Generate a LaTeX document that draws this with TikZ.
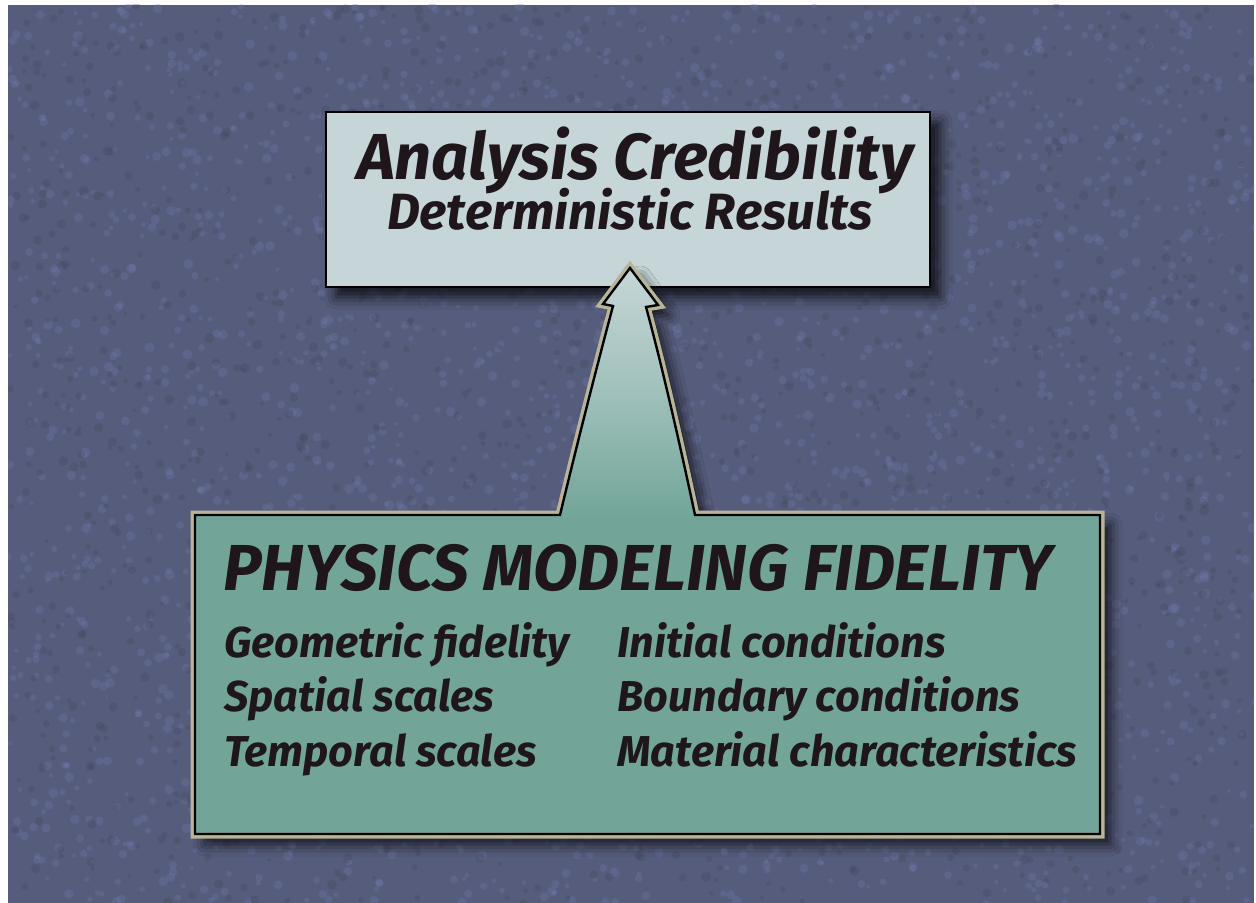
\documentclass[tikz,border=0pt]{standalone}
\usepackage{fontspec}
\setmainfont{Fira Sans}
\usetikzlibrary{shadows.blur}
\definecolor{bgc}{RGB}{86,92,124}
\definecolor{bglight}{RGB}{114,122,172}
\definecolor{bgdark}{RGB}{68,72,94}
\definecolor{topc}{RGB}{198,214,216}
\definecolor{tealc}{RGB}{114,165,152}
\definecolor{rimc}{RGB}{184,180,150}
\definecolor{inkc}{RGB}{30,22,26}
\tikzset{
  boxtext/.style={font=\bfseries\itshape, text=inkc, inner sep=0pt},
  bigtitle/.style={boxtext, font=\fontsize{32.5}{38}\selectfont\bfseries\itshape},
  subtitle/.style={boxtext, font=\fontsize{25.5}{30}\selectfont\bfseries\itshape},
  itemtext/.style={boxtext, font=\fontsize{21.6}{25}\selectfont\bfseries\itshape, anchor=base west},
  softshadow/.style={blur shadow={shadow xshift=5pt, shadow yshift=-5pt, shadow blur radius=6pt, shadow opacity=80}}
}
\begin{document}
\begin{tikzpicture}[x=0.5pt,y=-0.5pt]
\useasboundingbox (0,0) rectangle (1256,903);
\fill[white] (0,0) rectangle (1256,903);
\fill[bgc] (8,5) rectangle (1254,903);
\begin{scope}
\clip (8,5) rectangle (1254,903);
\pgfmathsetseed{7}
\foreach \i in {1,...,2600}{
  \fill[bglight, opacity=0.3] (8+1246*rnd, 5+898*rnd) circle ({2+3*rnd});
}
\foreach \i in {1,...,1600}{
  \fill[bgdark, opacity=0.3] (8+1246*rnd, 5+898*rnd) circle ({2+3*rnd});
}
\end{scope}
% top box
\path[softshadow, fill=topc, draw=black, line width=1.2pt] (326,112) rectangle (930,287);
\node[bigtitle, anchor=base] (t1) at (635,180) {Analysis Credibility};
\node[subtitle, anchor=base] (t2) at (630,230) {Deterministic Results};
% bottom box with arrow
\def\fidshape{(195,515) -- (560,515) .. controls (578,440) and (598,362) .. (613,306) -- (603,304) -- (630,268) -- (658,305) -- (646,307) .. controls (661,362) and (679,440) .. (695,515) -- (1100,515) -- (1100,834) -- (195,834) -- cycle}
\path[softshadow] \fidshape;
\draw[rimc, line width=4.5pt, line join=miter] \fidshape;
\fill[tealc] \fidshape;
\shade[top color=topc, bottom color=tealc, middle color=topc!55!tealc] (560,518) .. controls (578,440) and (598,362) .. (613,306) -- (603,304) -- (630,268) -- (658,305) -- (646,307) .. controls (661,362) and (679,440) .. (695,518) -- cycle;
\draw[black, line width=1.2pt, line join=miter] \fidshape;
\node[bigtitle, anchor=base] (p0) at (638,590) {PHYSICS MODELING FIDELITY};
\node[itemtext] (a1) at (224,657) {Geometric fidelity};
\node[itemtext] (a2) at (224,711) {Spatial scales};
\node[itemtext] (a3) at (224,766) {Temporal scales};
\node[itemtext] (b1) at (617,657) {Initial conditions};
\node[itemtext] (b2) at (617,711) {Boundary conditions};
\node[itemtext] (b3) at (617,766) {Material characteristics};
\end{tikzpicture}
\end{document}
